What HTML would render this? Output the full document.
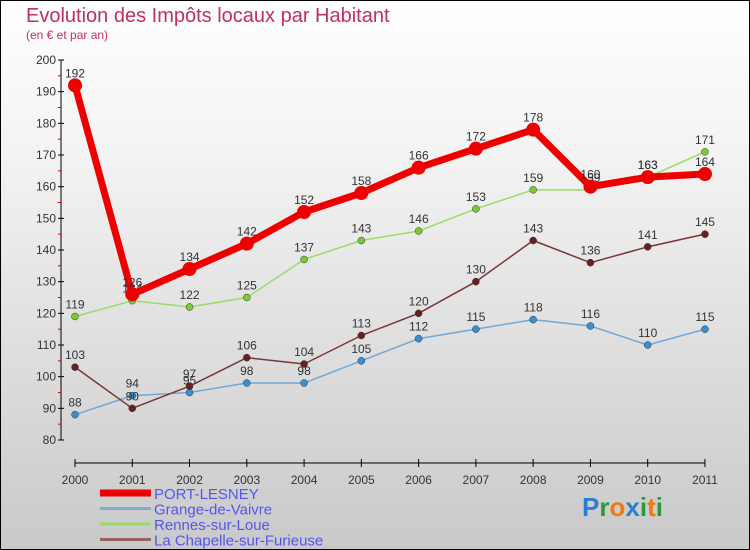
<!DOCTYPE html>
<html><head><meta charset="utf-8"><style>
body{margin:0}
#c{width:750px;height:550px;position:relative;box-sizing:border-box;border:1px solid #000;background:linear-gradient(#fff,#f2f2f2 30%,#c9c9c9);font-family:"Liberation Sans",sans-serif;overflow:hidden}
</style></head><body>
<div id="c">
<svg id="s" width="750" height="550" style="position:absolute;left:-1px;top:-1px">
<text x="26" y="22" font-size="20" fill="#c0305a">Evolution des Impôts locaux par Habitant</text>
<text x="26" y="39" font-size="12" fill="#c0305a">(en € et par an)</text>
</svg>
</div>
<script>
const years=["2000","2001","2002","2003","2004","2005","2006","2007","2008","2009","2010","2011"];
const portLesney=[192,126,134,142,152,158,166,172,178,160,163,164];
const grange=[88,94,95,98,98,105,112,115,118,116,110,115];
const rennes=[119,124,122,125,137,143,146,153,159,159,163,171];
const chapelle=[103,90,97,106,104,113,120,130,143,136,141,145];
const yTicks=[80,90,100,110,120,130,140,150,160,170,180,190,200];
const seriesNames=["PORT-LESNEY","Grange-de-Vaivre","Rennes-sur-Loue","La Chapelle-sur-Furieuse"];
const NS="http://www.w3.org/2000/svg",s=document.getElementById('s');
const X=i=>75+i*57.27, Y=v=>440-(v-80)*3.1667;
function el(t,a,p){const e=document.createElementNS(NS,t);for(const k in a)e.setAttribute(k,a[k]);(p||s).appendChild(e);return e;}
let ya=el('line',{x1:61,y1:60,x2:61,y2:440,stroke:'#000'});


yTicks.forEach((v,k)=>{el('line',{x1:58,x2:64,y1:Y(v),y2:Y(v),stroke:'#000'});
if(k<yTicks.length-1)el('line',{x1:58,x2:61,y1:Y(v+5),y2:Y(v+5),stroke:'#d00'});
const t=el('text',{x:56,y:Y(v)+4,'text-anchor':'end','font-size':12,fill:'#333'});t.textContent=v;

});
let xa=el('line',{x1:75,y1:463,x2:705,y2:463,stroke:'#000'});


years.forEach((y,i)=>{el('line',{x1:X(i),x2:X(i),y1:459,y2:467,stroke:'#000'});
const t=el('text',{x:X(i),y:484,'text-anchor':'middle','font-size':12,fill:'#333'});t.textContent=y;

});
function series(d,col,dot,w,r,name){
const g=el('g',{});


el('polyline',{points:d.map((v,i)=>X(i)+','+Y(v)).join(' '),fill:'none',stroke:col,'stroke-width':w,'stroke-linejoin':'round'},g);
d.forEach((v,i)=>{const c=el('circle',{cx:X(i),cy:Y(v),r:r,fill:dot,stroke:'#333','stroke-width':r>4?0:0.5},g);


const t=el('text',{x:X(i),y:Y(v)-8,'text-anchor':'middle','font-size':12,fill:'#333'},g);t.textContent=v;

});
}
series(grange,'#6fa8d8','#3a8fd0',1.5,3.5,'series-grange');
series(rennes,'#99dd66','#77cc33',1.5,3.5,'series-rennes');
series(chapelle,'#7a3535','#6a1f1f',1.5,3.5,'series-chapelle');
series(portLesney,'#ee0000','#ee0000',7,7,'series-port-lesney');
const lc=['#ee0000','#80aad0','#99dd66','#9a6060'],lw=[7,3,3,3];
seriesNames.forEach((n,i)=>{const y=492+i*15.5;
const l=el('line',{x1:100,x2:151,y1:y+1,y2:y+1,stroke:lc[i],'stroke-width':lw[i]});


const t=el('text',{x:154,y:y+7,'font-size':15,fill:'#5555ee'});t.textContent=n;

});
const lg=el('text',{x:582,y:516,'font-size':26,'font-weight':'bold'});


[['P','#2a7fd0'],['r','#2a9a3a'],['o','#f07a10'],['x','#2a7fd0'],['i','#2a9a3a'],['t','#f07a10'],['i','#2a9a3a']].forEach(([c,f])=>{const sp=el('tspan',{fill:f},lg);sp.textContent=c;});
</script>
</body></html>
